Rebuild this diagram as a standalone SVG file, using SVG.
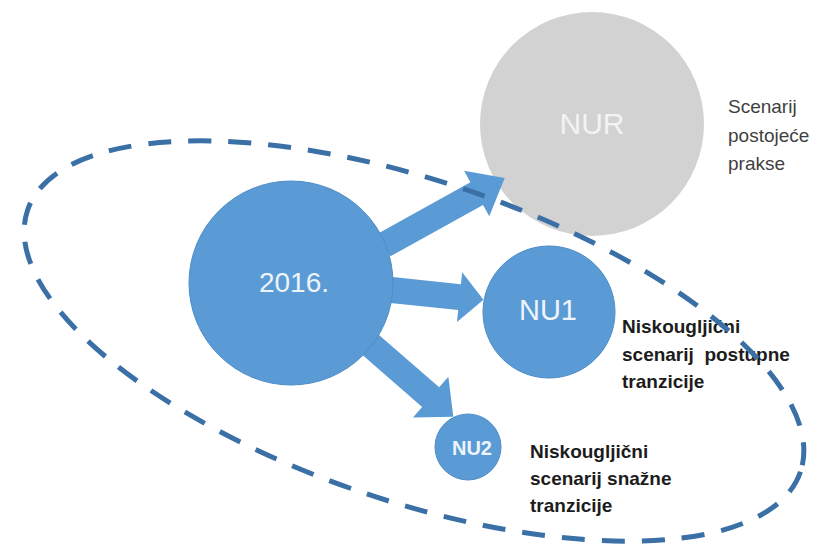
<svg xmlns="http://www.w3.org/2000/svg" width="828" height="546" viewBox="0 0 828 546">
<style>
.blue{fill:#5b9bd5;stroke:#4f8dc7;stroke-width:1}
.arrow{fill:#5b9bd5}
.in{font-family:"Liberation Sans",Arial,sans-serif;fill:#eef4fb;text-anchor:middle}
.lbl{font-family:"Liberation Sans",Arial,sans-serif;font-size:19px}
.gray{fill:#3f3f3f}
.bold{font-weight:bold;fill:#1c1c1c}
.dash{fill:none;stroke:#3b70a7;stroke-width:5;stroke-dasharray:23 17}
</style>
<rect width="828" height="546" fill="#ffffff"/>
<g id="nur">
<circle cx="592" cy="124" r="112" fill="#d2d2d2"/>
<text class="in" x="592" y="134" font-size="30" fill="#f3f3f3" style="fill:#f3f3f3">NUR</text>
</g>
<g id="connectors">
<polygon class="arrow" transform="translate(384,245) rotate(-29)" points="0,-13 106,-13 106,-26 138,0 106,26 106,13 0,13"/>
<polygon class="arrow" transform="translate(382,289) rotate(6)" points="0,-13 78,-13 78,-25 102,0 78,25 78,13 0,13"/>
<polygon class="arrow" transform="translate(365,340) rotate(41)" points="0,-13 87,-13 87,-27 117,0 87,27 87,13 0,13"/>
</g>
<g id="n2016">
<circle class="blue" cx="291" cy="283" r="102"/>
<text class="in" x="294" y="292" font-size="28">2016.</text>
</g>
<g id="nu1">
<circle class="blue" cx="549" cy="312" r="66"/>
<text class="in" x="548" y="320" font-size="29">NU1</text>
</g>
<g id="nu2">
<circle class="blue" cx="468" cy="447" r="33"/>
<text class="in" x="472" y="455" font-size="20" font-weight="bold">NU2</text>
</g>
<g id="label-nur" class="lbl gray">
<text x="728" y="113">Scenarij</text>
<text x="728" y="142">postojeće</text>
<text x="728" y="170">prakse</text>
</g>
<g id="label-nu1" class="lbl bold">
<text x="622" y="333">Niskougljični</text>
<text x="622" y="361" xml:space="preserve">scenarij  postupne</text>
<text x="622" y="388">tranzicije</text>
</g>
<g id="label-nu2" class="lbl bold">
<text x="530" y="458">Niskougljični</text>
<text x="530" y="485">scenarij snažne</text>
<text x="530" y="512">tranzicije</text>
</g>
<g id="boundary">
<ellipse class="dash" cx="414" cy="341" rx="408" ry="160" transform="rotate(18.7 414 341)"/>
</g>
</svg>
